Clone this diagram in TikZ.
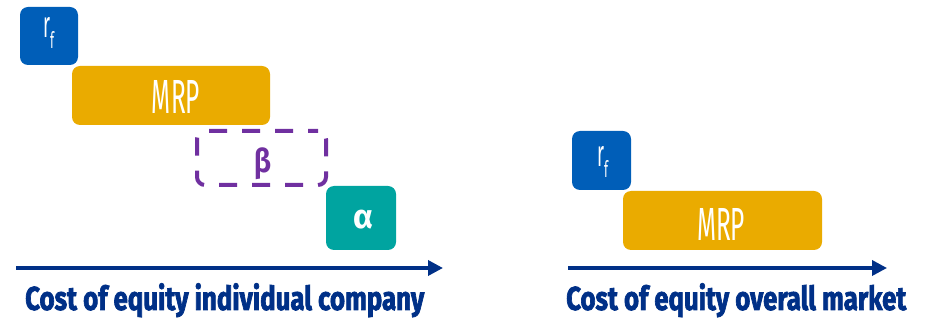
\documentclass[tikz,border=0pt]{standalone}
\usepackage{fontspec}
\setmainfont{Fira Sans}
\newfontfamily\capfont{Fira Sans}[UprightFont={* Bold}, FakeBold=2.5]
\usetikzlibrary{arrows.meta}
\definecolor{rfblue}{RGB}{0,94,184}
\definecolor{mrpgold}{RGB}{234,171,0}
\definecolor{betapurple}{RGB}{112,48,160}
\definecolor{alphateal}{RGB}{0,164,160}
\definecolor{navy}{RGB}{0,48,135}
\newcommand{\rftext}{\resizebox*{7pt}{20pt}{r}\raisebox{-11pt}{\resizebox*{4pt}{17pt}{f}}}
\tikzset{
  box/.style={rounded corners=8pt, inner sep=0pt, outer sep=0pt},
  boxtext/.style={inner sep=0pt, text=white},
  axis/.style={draw=navy, line width=3.5pt, -{Triangle[length=15pt,width=15pt]}},
  caption/.style={anchor=north west, inner sep=0pt, text=navy, font=\capfont},
}
\begin{document}
\begin{tikzpicture}[x=1pt,y=-1pt]
\useasboundingbox (0,0) rectangle (926,320);
% left group
\node[box, fill=rfblue, minimum width=58pt, minimum height=58pt] (rfL) at (49,36) {};
\node[boxtext] (rfLt) at (48.5,33.5) {\rftext};
\node[box, fill=mrpgold, minimum width=198pt, minimum height=59pt] (mrpL) at (171,95.5) {};
\node[boxtext] (mrpLt) at (176,96.5) {\resizebox*{48pt}{33pt}{MRP}};
\node[box, draw=betapurple, line width=4pt, dash pattern=on 18pt off 15pt, dash phase=8pt, minimum width=129pt, minimum height=54pt] (beta) at (261.5,158) {};
\node[inner sep=0pt, text=betapurple] (betat) at (262.5,164) {\resizebox*{17pt}{32pt}{\bfseries β}};
\node[box, fill=alphateal, minimum width=70pt, minimum height=64pt] (alpha) at (361,218) {};
\node[boxtext] (alphat) at (363,219.5) {\resizebox*{20pt}{19pt}{\bfseries α}};
\coordinate (axLs) at (16,268);
\coordinate (axLe) at (443,268);
\draw[axis] (axLs) -- (axLe);
\node[caption] (capL) at (25,283) {\resizebox*{399pt}{34pt}{Cost of equity individual company}};
% right group
\node[box, fill=rfblue, minimum width=59pt, minimum height=59pt] (rfR) at (601.5,160.5) {};
\node[boxtext] (rfRt) at (602.5,162) {\rftext};
\node[box, fill=mrpgold, minimum width=199pt, minimum height=59pt] (mrpR) at (722.5,220.5) {};
\node[boxtext] (mrpRt) at (721,224) {\resizebox*{48pt}{32pt}{MRP}};
\coordinate (axRs) at (568,268);
\coordinate (axRe) at (887,268);
\draw[axis] (axRs) -- (axRe);
\node[caption] (capR) at (566,283) {\resizebox*{340pt}{34pt}{Cost of equity overall market}};
\end{tikzpicture}
\end{document}
